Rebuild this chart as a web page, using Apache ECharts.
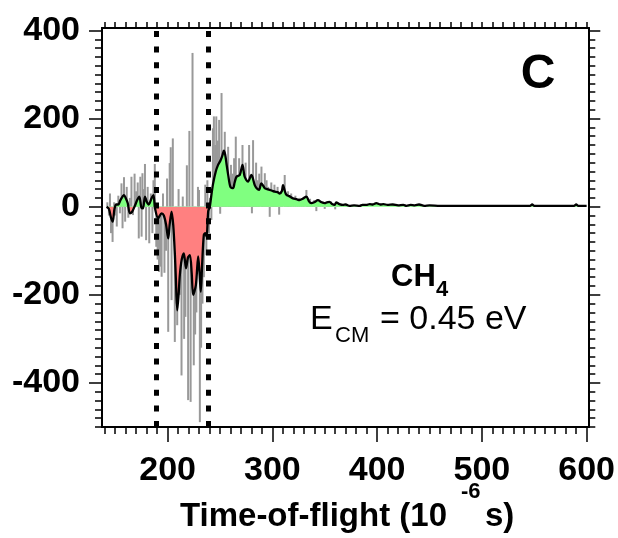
<!DOCTYPE html>
<html>
<head>
<meta charset="utf-8">
<script src="https://cdn.jsdelivr.net/npm/echarts@6/dist/echarts.min.js"></script>
<style>html,body{margin:0;padding:0;background:#fff}#c{width:618px;height:538px}</style>
</head>
<body>
<div id="c"></div>
<script>
// ---- data ----
const rawT = [142.5,144,145,146,147.5,149,150.5,151.5,153,154.5,156,157,158.4,159.5,161,162.5,164,165.5,167,168.5,170,171.5,172.5,174,175.2,176,177.2,178.4,179.5,181,182.5,184,185.5,186.5,187.8,189.2,190.5,191.8,193,194.3,195.6,197,198.5,199.5,200.6,202,203,203.8,205,206.9,208,209.2,210.5,211.8,213.3,214.5,215.8,217,218.4,219.6,220.8,222,223.8,225,226.3,227.5,229,230,230.8,232,233.3,234.6,236,237,238,239.5,240.5,241.8,243.3,244.2,245.5,246.5,248,249.2,250.2,251.5,253,254.6,256,257.8,259.2,260.5,262,263.5,265.1,266.5,268.3,270,271.5,273,274.5,276,277.8,279.2,280.5,281.6,283,284.5,286,287.5,289.6,291,292.8,294.5,296,297.5,299,300.5,302,303.5,305,306.5,308,309.5,311.8,313.5,315,316.5,318,320,322,324,326,328,330,332.5,334,336,338,340,342,344,346,348,350,352,354,356,358,360,362,364,366,368,370,372,374];
const rawV = [10,-20,30,-60,-80,10,-20,-45,25,-15,53,-49,67,-34,45,-25,20,68,-19,75,35,55,-72,68,-68,76,40,97,-76,45,-83,30,-60,60,97,-91,-120,-148,-136,-159,30,-150,-100,64,-284,99,135,-212,155,-307,-220,-269,40,-200,-383,23,-300,-250,94,-439,172,-443,349,-360,-290,-240,45,38,-489,-320,-220,-160,50,-110,60,-60,20,-30,178,205,140,205,150,197,-16,258,120,170,100,136,50,95,75,110,159,70,110,85,140,65,100,60,140,50,-15,151,50,100,60,75,91,40,76,60,45,-23,55,35,50,25,45,-18,35,25,72,25,35,15,30,18,25,10,20,12,18,38,10,18,5,15,-10,12,8,12,-5,10,8,12,4,-6,8,4,6,2,5,3,4];

const smoothT = [141.8,144,146,147.6,149.3,151,153,155,158.4,160,162,164,166,168.8,171,173,175,176.5,178.4,180,182,184.7,186.5,188,191,194.3,196.4,198.5,200.6,202,203.8,205.4,207,207.9,209.2,210.5,211.7,213.5,215.5,217.6,219.5,221.3,223,224.4,227,229.2,230.5,231.7,233,234.6,236,237.2,238.8,240.3,242,243.5,246,248.2,250.5,252.4,253.7,255,256.2,258,260,262.5,264,265.8,268.9,271.5,273.6,276.8,280,283.2,285,287.3,289.5,292.8,295,297.5,300,302.3,305,307,309,310.2,312,313.4,316,319.7,323,326,329,332.5,335,337,340,343.5,347,350,352,354.5,357,359.5,361,364,367.4,370,373.7,378,383.3,386,389.7,393,396,399.2,403,406,410,415,420,425,428,432,436,440,445,450,460,470,480,490,500,510,520,530,540,546,548,550,560,570,580,588,590,592,596,600];
const smoothV = [0,-5,-25,-34,-5,5,5,15,26,20,8,-15,-12,2,15,23,-2,-4,23,12,5,19,26,-4,-26,-15,-20,-40,-72,-40,-11,-42,-110,-163,-235,-200,-155,-120,-106,-140,-115,-110,-150,-200,-178,-113,-150,-193,-130,-64,-60,-68,-10,0,30,53,80,95,105,117,127,118,98,70,45,42,55,68,72,95,68,57,72,49,42,38,53,42,40,38,36,34,33,30,35,49,35,27,24,19,17,15,18,23,12,8,10,15,10,8,10,11,6,4,10,6,4,5,2,3,2,4,4,6,5,8,5,6,4,5,3,4,2,4,3,5,2,3,2,2,2,2,2,2,2,2,2,2,5,2,2,2,2,2,5,2,2,2];

const xTickLabels = [200, 300, 400, 500, 600];
const yTickLabels = [-400, -200, 0, 200, 400];
const windowLines = [189, 238.6];

// ---- build ----
const rawData = rawT.map((t, i) => [t, rawV[i]]);
const smoothData = smoothT.map((t, i) => [t, smoothV[i]]);
const xMinor = []; for (let t = 140; t <= 600; t += 10) xMinor.push(t);
const yMinor = []; for (let v = -500; v <= 400; v += 20) yMinor.push(v);

const FONT = '"Liberation Sans", Arial, sans-serif';
const XMIN = 137.4, XMAX = 601.6, YMIN = -500, YMAX = 405.6;
const GREEN = '#80ff80', RED = '#ff8080';

function xAx(pos, ticks, len, labels) {
  return {
    type: 'value', position: pos, min: XMIN, max: XMAX,
    axisLine: { show: true, onZero: false, lineStyle: { color: '#000', width: 2 } },
    axisTick: { show: true, customValues: ticks, length: len, lineStyle: { color: '#000', width: 1.5 } },
    axisLabel: labels ? { show: true, customValues: labels, margin: 27, color: '#000', fontSize: 34, fontWeight: 'bold', fontFamily: FONT } : { show: false },
    splitLine: { show: false }, minorTick: { show: false }
  };
}
function yAx(pos, ticks, len, labels) {
  return {
    type: 'value', position: pos, min: YMIN, max: YMAX,
    axisLine: { show: true, onZero: false, lineStyle: { color: '#000', width: 2 } },
    axisTick: { show: true, customValues: ticks, length: len, lineStyle: { color: '#000', width: 1.5 } },
    axisLabel: labels ? { show: true, customValues: labels, margin: 22, color: '#000', fontSize: 34, fontWeight: 'bold', fontFamily: FONT } : { show: false },
    splitLine: { show: false }, minorTick: { show: false }
  };
}

const chart = echarts.init(document.getElementById('c'), null, { renderer: 'canvas' });
const baseOption = {
  animation: false,
  backgroundColor: '#fff',
  grid: { left: 102, right: 29, top: 28, bottom: 111, containLabel: false },
  xAxis: [
    xAx('bottom', xTickLabels, 15, xTickLabels),
    xAx('bottom', xMinor, 7, null),
    xAx('top', xMinor, 6, null)
  ],
  yAxis: [
    yAx('left', yTickLabels, 13, yTickLabels),
    yAx('left', yMinor, 7, null),
    yAx('right', yTickLabels, 12, null),
    yAx('right', yMinor, 7, null)
  ],
  series: [
    {
      id: 'raw', type: 'bar', data: rawData, barWidth: 2, xAxisIndex: 0, yAxisIndex: 0,
      itemStyle: { color: '#999999' }, silent: true
    },
    {
      id: 'fill', type: 'line', data: smoothData, xAxisIndex: 0, yAxisIndex: 0, showSymbol: false, smooth: 0.3,
      lineStyle: { width: 0 }, areaStyle: { opacity: 1, color: GREEN }, itemStyle: { color: GREEN }, silent: true
    },
    {
      id: 'smooth', type: 'line', data: smoothData, xAxisIndex: 0, yAxisIndex: 0, showSymbol: false, smooth: 0.3,
      lineStyle: { color: '#000', width: 2.3 }, itemStyle: { color: '#000' }, silent: true,
      markLine: {
        silent: true, symbol: ['none', 'none'], label: { show: false },
        lineStyle: { color: '#000', width: 5, type: [6, 9.6] },
        data: windowLines.map(v => ({ xAxis: v }))
      }
    }
  ],
  graphic: [
    { type: 'text', x: 538, y: 75, style: { text: 'C', font: 'bold 48px ' + FONT, fill: '#000', align: 'center', verticalAlign: 'middle' } },
    { type: 'text', x: 391, y: 277, style: { text: 'CH', font: 'bold 31px ' + FONT, fill: '#000', align: 'left', verticalAlign: 'middle' } },
    { type: 'text', x: 436, y: 290, style: { text: '4', font: 'bold 22px ' + FONT, fill: '#000', align: 'left', verticalAlign: 'middle' } },
    { type: 'text', x: 310, y: 320, style: { text: 'E', font: '34px ' + FONT, fill: '#000', align: 'left', verticalAlign: 'middle' } },
    { type: 'text', x: 335, y: 336, style: { text: 'CM', font: '22px ' + FONT, fill: '#000', align: 'left', verticalAlign: 'middle' } },
    { type: 'text', x: 380, y: 320, style: { text: '= 0.45 eV', font: '34px ' + FONT, fill: '#000', align: 'left', verticalAlign: 'middle' } },
    { type: 'text', x: 447, y: 517, style: { text: 'Time-of-flight (10', font: 'bold 33px ' + FONT, fill: '#000', align: 'right', verticalAlign: 'middle' } },
    { type: 'text', x: 461, y: 492, style: { text: '-6', font: 'bold 22px ' + FONT, fill: '#000', align: 'left', verticalAlign: 'middle' } },
    { type: 'text', x: 485, y: 517, style: { text: 's)', font: 'bold 33px ' + FONT, fill: '#000', align: 'left', verticalAlign: 'middle' } }
  ]
};
chart.setOption(baseOption);

// Split the fill colour at the zero line using the library's own y scale.
const yTop = chart.convertToPixel({ yAxisIndex: 0 }, YMAX);
const yBot = chart.convertToPixel({ yAxisIndex: 0 }, YMIN);
const yZero = chart.convertToPixel({ yAxisIndex: 0 }, 0);
const f = (yZero - yTop) / (yBot - yTop);
const grad = new echarts.graphic.LinearGradient(0, yTop, 0, yBot, [
  { offset: 0, color: GREEN }, { offset: f, color: GREEN },
  { offset: f, color: RED }, { offset: 1, color: RED }
], true);
chart.setOption({ series: [{ id: 'fill', areaStyle: { opacity: 1, color: grad } }] });
</script>
</body>
</html>
